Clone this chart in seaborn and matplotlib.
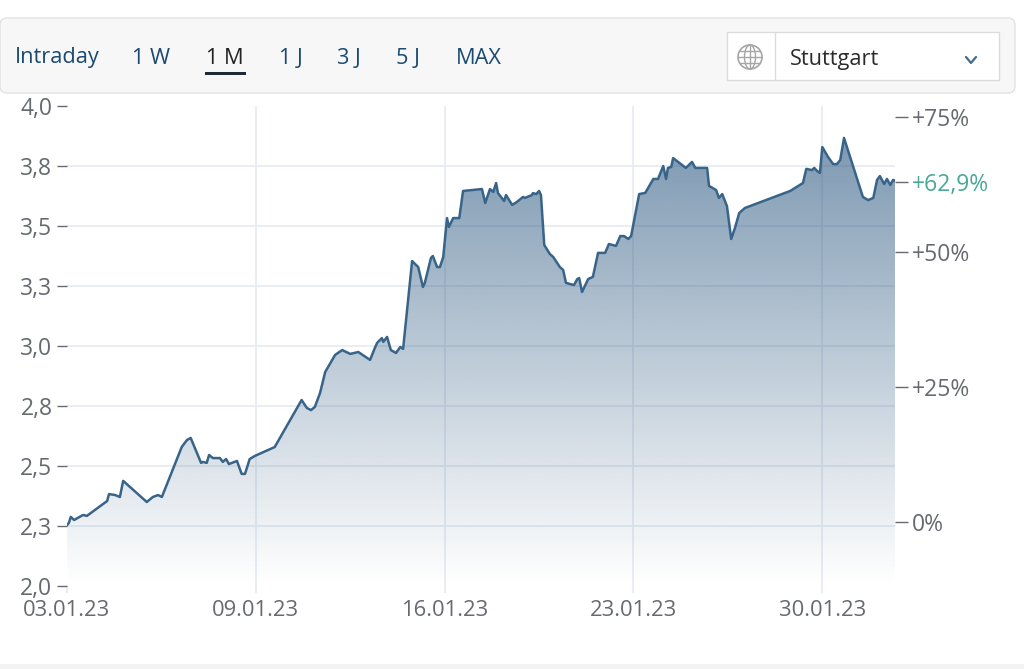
##### Preliminaries ############################################################
import numpy as np
import pandas as pd
import matplotlib
matplotlib.use('Agg')
import matplotlib.pyplot as plt
from matplotlib.patches import FancyBboxPatch, Rectangle, Circle, Ellipse
import seaborn as sns

sns.set_style('white')
plt.rcParams['font.family'] = ['Open Sans', 'DejaVu Sans']

##### Data #####################################################################
# Trading days since 03.01.23
day = [0, .04, .08, .15, .34, .42, .85, .89, 1.02, 1.12, 1.19, 1.69, 1.82, 1.93,
    2.01, 2.43, 2.54, 2.62, 2.84, 2.88, 2.96, 3.01, 3.09, 3.24, 3.30, 3.37, 3.43,
    3.60, 3.70, 3.77, 3.87, 3.98, 4.40, 4.97, 5.08, 5.17, 5.25, 5.36, 5.47, 5.68,
    5.83, 6.00, 6.17, 6.42, 6.53, 6.57, 6.67, 6.70, 6.78, 6.86, 6.97, 7.06, 7.12,
    7.31, 7.44, 7.54, 7.58, 7.71, 7.75, 7.84, 7.90, 7.97, 8.05, 8.09, 8.18, 8.31,
    8.39, 8.79, 8.86, 8.96, 9.03, 9.09, 9.13, 9.26, 9.30, 9.43, 9.53, 9.66, 9.70,
    9.85, 9.87, 9.94, 10.0, 10.04, 10.11, 10.23, 10.30, 10.44, 10.51, 10.57, 10.74,
    10.81, 10.85, 10.91, 11.04, 11.14, 11.25, 11.40, 11.48, 11.63, 11.72, 11.80,
    11.89, 11.95, 12.12, 12.25, 12.42, 12.52, 12.63, 12.69, 12.73, 12.80, 12.84,
    13.11, 13.24, 13.31, 13.56, 13.60, 13.75, 13.81, 13.88, 13.98, 14.07, 14.15,
    14.24, 14.36, 15.32, 15.59, 15.66, 15.78, 15.83, 15.89, 15.95, 16.0, 16.12,
    16.23, 16.31, 16.38, 16.46, 16.86, 16.97, 17.08, 17.16, 17.22, 17.31, 17.37,
    17.44, 17.50, 17.54]

price = [2.254, 2.263, 2.288, 2.275, 2.296, 2.292, 2.354, 2.383, 2.379, 2.371, 2.438,
    2.35, 2.371, 2.379, 2.371, 2.579, 2.608, 2.617, 2.513, 2.517, 2.513, 2.546, 2.533,
    2.533, 2.517, 2.529, 2.508, 2.521, 2.467, 2.467, 2.529, 2.542, 2.579, 2.775, 2.742,
    2.733, 2.746, 2.804, 2.892, 2.963, 2.983, 2.967, 2.975, 2.942, 2.996, 3.013, 3.033,
    3.017, 3.038, 2.983, 2.971, 2.996, 2.988, 3.354, 3.329, 3.246, 3.263, 3.367, 3.375,
    3.329, 3.329, 3.371, 3.533, 3.496, 3.533, 3.533, 3.646, 3.654, 3.596, 3.654, 3.642,
    3.679, 3.637, 3.604, 3.629, 3.588, 3.6, 3.621, 3.617, 3.629, 3.637, 3.633, 3.646,
    3.629, 3.421, 3.383, 3.371, 3.329, 3.317, 3.263, 3.254, 3.279, 3.283, 3.225, 3.279,
    3.288, 3.388, 3.388, 3.425, 3.417, 3.458, 3.458, 3.446, 3.458, 3.633, 3.638, 3.696,
    3.696, 3.75, 3.696, 3.742, 3.746, 3.783, 3.742, 3.767, 3.742, 3.742, 3.667, 3.65,
    3.617, 3.633, 3.583, 3.446, 3.492, 3.554, 3.575, 3.646, 3.679, 3.738, 3.733, 3.742,
    3.729, 3.721, 3.829, 3.788, 3.758, 3.758, 3.775, 3.867, 3.621, 3.608, 3.617, 3.692,
    3.708, 3.675, 3.696, 3.671, 3.692, 3.688]

date_ticks = [0, 4, 8, 12, 16]
date_labels = ['03.01.23', '09.01.23', '16.01.23', '23.01.23', '30.01.23']
price_ticks = [2.0, 2.25, 2.5, 2.75, 3.0, 3.25, 3.5, 3.75, 4.0]
price_labels = ['2,0', '2,3', '2,5', '2,8', '3,0', '3,3', '3,5', '3,8', '4,0']
pct_ticks = [0, 25, 50, 62.9, 75]
pct_labels = ['0%', '+25%', '+50%', '+62,9%', '+75%']
periods = ['Intraday', '1 W', '1 M', '1 J', '3 J', '5 J', 'MAX']

df_fig = pd.DataFrame({'day': day, 'price': price})

##### Figure ###################################################################
W, H = 1024, 669
TEXT = '#666a70'
GRID = '#e6ebf1'
fig = plt.figure(figsize=(W / 100, H / 100), dpi=100, facecolor='white')

# Chart Axes (px 67-895, 106-586)
ax = fig.add_axes([67 / W, 1 - 586 / H, 828 / W, 480 / H])
ax.set_xlim(0, 17.54)
ax.set_ylim(2, 4)
sns.despine(ax=ax, left=True, bottom=True)

ax.grid(True, color=GRID, linewidth=1.2, zorder=0)
ax.set_axisbelow(True)

# Gradient Fill
shape = ax.fill_between(df_fig['day'], df_fig['price'], 2, facecolor='none', linewidth=0)
rgba = np.zeros((256, 1, 4))
rgba[..., 0], rgba[..., 1], rgba[..., 2] = 31 / 255, 78 / 255, 121 / 255
rgba[..., 3] = np.linspace(0.62, 0, 256)[:, None]
img = ax.imshow(rgba, extent=[0, 17.54, 2, 4], aspect='auto', zorder=1, origin='upper')
img.set_clip_path(shape.get_paths()[0], transform=ax.transData)

sns.lineplot(data=df_fig, x='day', y='price', ax=ax, color='#38648a', linewidth=1.8,
    sort=False, errorbar=None, zorder=2)

ax.set(xlabel=None, ylabel=None)
ax.set_xticks(date_ticks, date_labels)
ax.set_yticks(price_ticks, price_labels)
ax.tick_params(axis='x', length=5, width=1.2, color=GRID, labelsize=15.8, labelcolor=TEXT, pad=5, bottom=True)
ax.tick_params(axis='y', length=7, width=1, color=TEXT, labelsize=16.5, labelcolor=TEXT, pad=3.5, left=True)

# No gridlines on the frame edges
ax.get_xgridlines()[0].set_visible(False)
ax.get_ygridlines()[0].set_visible(False)
ax.get_ygridlines()[-1].set_visible(False)

# Percent Axis
ax2 = ax.twinx()
ax2.set_ylim(-11.85, 77.04)
sns.despine(ax=ax2, left=True, bottom=True, right=True)
ax2.grid(False)
ax2.set_yticks(pct_ticks, pct_labels)
ax2.tick_params(axis='y', length=9, width=1, color=TEXT, labelsize=16.5, labelcolor=TEXT, pad=3, right=True)
ax2.get_yticklabels()[3].set_color('#4aa896')

# Page Furniture (pixel coordinates)
ui = fig.add_axes([0, 0, 1, 1], zorder=-1)
ui.set_xlim(0, W)
ui.set_ylim(H, 0)
ui.axis('off')

ui.add_patch(FancyBboxPatch((0, 18), 1015, 75, boxstyle='round,pad=0,rounding_size=7',
    facecolor='#f7f7f7', edgecolor='#e2e2e2', linewidth=1))
ui.add_patch(Rectangle((0, 664), W, 5, facecolor='#f3f3f3', edgecolor='none'))

period_x = [15, 132, 206, 279, 337, 396, 456]
for label, x in zip(periods, period_x):
    ui.text(x, 58, label, fontsize=15.7, color='#1a4a72' if label != '1 M' else '#222', va='center', ha='left')
ui.add_patch(Rectangle((205, 72), 41, 3, facecolor='#1f2a38', edgecolor='none'))

ui.add_patch(Rectangle((727, 32), 272, 48, facecolor='white', edgecolor='#dcdcdc', linewidth=1))
ui.plot([775, 775], [32, 80], color='#dcdcdc', linewidth=1)
ui.text(790, 59, 'Stuttgart', fontsize=15.7, color='#2b2b2b', va='center', ha='left')
ui.plot([966, 971, 976], [57, 63, 57], color='#3f6d8f', linewidth=1.6)

# Globe Icon
ui.add_patch(Circle((750, 57), 12, facecolor='none', edgecolor='#a6a6a6', linewidth=1.2))
ui.add_patch(Ellipse((750, 57), 11, 24, facecolor='none', edgecolor='#a6a6a6', linewidth=1))
ui.plot([738, 762], [57, 57], color='#a6a6a6', linewidth=1)
ui.plot([740, 760], [51, 51], color='#a6a6a6', linewidth=1)
ui.plot([740, 760], [63, 63], color='#a6a6a6', linewidth=1)
ui.plot([750, 750], [45, 69], color='#a6a6a6', linewidth=1)

plt.savefig('out.png', dpi=100)
